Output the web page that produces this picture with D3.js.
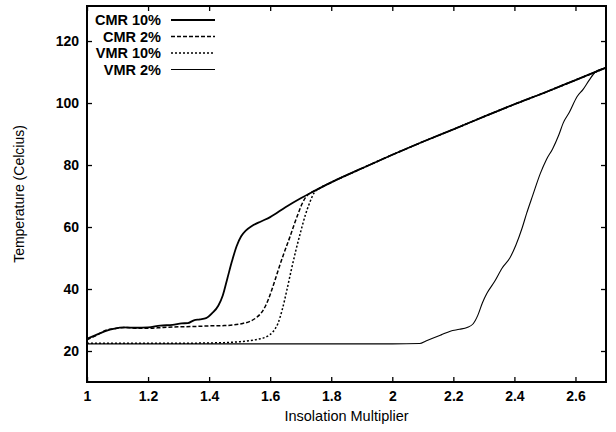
<!DOCTYPE html>
<html>
<head>
<meta charset="utf-8">
<script src="https://cdn.jsdelivr.net/npm/d3@7"></script>
<style>
  html, body { margin: 0; padding: 0; background: #fff; }
  svg { display: block; }
  text { font-family: "Liberation Sans", Arial, Helvetica, sans-serif; fill: #000; }
</style>
</head>
<body>
<svg id="chart" width="616" height="432"></svg>
<script>
// ---- data ----
const xTicks = [1, 1.2, 1.4, 1.6, 1.8, 2, 2.2, 2.4, 2.6];
const yTicks = [20, 40, 60, 80, 100, 120];
const seriesNames = ["CMR 10%", "CMR 2%", "VMR 10%", "VMR 2%"];

const cmr10 = [[1.00,24.0],[1.03,25.2],[1.06,26.4],[1.09,27.2],[1.12,27.6],[1.16,27.5],[1.20,27.6],[1.24,28.2],[1.28,28.4],[1.31,28.9],[1.33,29.0],[1.35,29.9],[1.37,30.2],[1.39,30.6],[1.41,32.2],[1.43,34.6],[1.445,38.0],[1.46,43.5],[1.475,49.0],[1.49,53.8],[1.505,57.0],[1.52,58.8],[1.54,60.3],[1.57,61.8],[1.60,63.2],[1.65,66.4],[1.70,69.3],[1.75,71.9],[1.80,74.4],[1.90,78.9],[2.00,83.3],[2.10,87.5],[2.20,91.5],[2.30,95.6],[2.40,99.6],[2.50,103.4],[2.60,107.4],[2.70,111.4]];

const cmr2 = [[1.00,23.6],[1.03,25.0],[1.06,26.6],[1.09,27.2],[1.13,27.6],[1.17,27.3],[1.20,27.3],[1.25,27.6],[1.30,27.8],[1.35,27.9],[1.40,28.1],[1.45,28.2],[1.48,28.4],[1.51,28.9],[1.535,29.6],[1.555,30.8],[1.57,32.2],[1.585,34.6],[1.60,38.2],[1.615,42.6],[1.63,47.2],[1.645,51.5],[1.665,56.9],[1.68,61.2],[1.692,64.4],[1.705,67.6],[1.715,69.4],[1.73,70.9],[1.75,71.9],[1.80,74.4],[1.90,78.9],[2.00,83.3],[2.10,87.5],[2.20,91.5],[2.30,95.6],[2.40,99.6],[2.50,103.4],[2.60,107.4],[2.70,111.4]];

const vmr10 = [[1.00,22.5],[1.10,22.5],[1.20,22.5],[1.30,22.5],[1.40,22.6],[1.45,22.7],[1.50,23.0],[1.53,23.3],[1.56,23.8],[1.59,24.7],[1.61,26.3],[1.625,28.8],[1.64,33.5],[1.655,39.8],[1.67,46.5],[1.685,52.8],[1.70,58.5],[1.715,63.8],[1.73,68.0],[1.745,71.2],[1.76,72.4],[1.80,74.4],[1.90,78.9],[2.00,83.3],[2.10,87.5],[2.20,91.5],[2.30,95.6],[2.40,99.6],[2.50,103.4],[2.60,107.4],[2.70,111.4]];

const vmr2 = [[1.00,22.3],[1.20,22.3],[1.40,22.3],[1.60,22.3],[1.80,22.3],[2.00,22.3],[2.09,22.4],[2.11,23.2],[2.13,24.0],[2.16,25.2],[2.19,26.4],[2.22,27.0],[2.245,27.6],[2.265,28.8],[2.28,31.5],[2.295,35.5],[2.31,38.6],[2.335,42.4],[2.36,46.8],[2.385,50.0],[2.405,54.2],[2.425,59.6],[2.44,64.4],[2.46,70.2],[2.485,77.3],[2.505,81.8],[2.525,85.2],[2.545,89.6],[2.56,93.6],[2.58,97.0],[2.605,102.0],[2.625,104.4],[2.645,107.4],[2.665,110.0],[2.685,111.0],[2.70,111.4]];

const seriesData = [cmr10, cmr2, vmr10, vmr2];

// ---- styles ----
const styles = [
  { width: 1.8, dash: null },
  { width: 1.5, dash: "4,2" },
  { width: 1.5, dash: "2,2" },
  { width: 1.1, dash: null }
];

// ---- layout ----
const svg = d3.select("#chart");
const L = 87, R = 606, T = 6, B = 382;

const x = d3.scaleLinear().domain([1, 2.7]).range([L, R]);
const y = d3.scaleLinear().domain([10, 131.3]).range([B, T]);

svg.append("rect").attr("width", 616).attr("height", 432).attr("fill", "#fff");

const plot = svg.append("g");
plot.append("clipPath").attr("id", "clip")
  .append("rect").attr("x", L).attr("y", T).attr("width", R - L).attr("height", B - T);

// inward ticks on all sides via d3 axes
const tickLen = 5;
const axB = svg.append("g").attr("transform", `translate(0,${B})`)
  .call(d3.axisTop(x).tickValues(xTicks).tickSize(tickLen).tickFormat(""));
const axT = svg.append("g").attr("transform", `translate(0,${T})`)
  .call(d3.axisBottom(x).tickValues(xTicks).tickSize(tickLen).tickFormat(""));
const axL = svg.append("g").attr("transform", `translate(${L},0)`)
  .call(d3.axisRight(y).tickValues(yTicks).tickSize(tickLen).tickFormat(""));
const axR = svg.append("g").attr("transform", `translate(${R},0)`)
  .call(d3.axisLeft(y).tickValues(yTicks).tickSize(tickLen).tickFormat(""));
[axB, axT, axL, axR].forEach(a => {
  a.select(".domain").remove();
  a.selectAll("line").attr("stroke", "#000").attr("stroke-width", 1.3);
});

// tick labels
const xLab = svg.append("g").attr("transform", `translate(0,${B})`)
  .call(d3.axisBottom(x).tickValues(xTicks).tickSize(0).tickPadding(9).tickFormat(d3.format("~g")));
xLab.select(".domain").remove();
xLab.selectAll("text").attr("font-size", 14).attr("font-weight", "bold")
  .attr("font-family", "Liberation Sans, Arial, sans-serif").attr("fill", "#000");

const yLab = svg.append("g").attr("transform", `translate(${L},0)`)
  .call(d3.axisLeft(y).tickValues(yTicks).tickSize(0).tickPadding(8).tickFormat(d3.format("~g")));
yLab.select(".domain").remove();
yLab.selectAll("text").attr("font-size", 14).attr("font-weight", "bold")
  .attr("font-family", "Liberation Sans, Arial, sans-serif").attr("fill", "#000");

// curves
const line = d3.line().x(d => x(d[0])).y(d => y(d[1])).curve(d3.curveMonotoneX);
const curves = plot.append("g").attr("clip-path", "url(#clip)");
seriesData.forEach((s, i) => {
  curves.append("path").datum(s)
    .attr("d", line)
    .attr("fill", "none")
    .attr("stroke", "#000")
    .attr("stroke-width", styles[i].width)
    .attr("stroke-dasharray", styles[i].dash)
    .attr("stroke-linejoin", "round");
});

// border
svg.append("rect").attr("x", L).attr("y", T).attr("width", R - L).attr("height", B - T)
  .attr("fill", "none").attr("stroke", "#000").attr("stroke-width", 2);

// legend
const legY = [20, 36.5, 53, 69.5];
const leg = svg.append("g");
seriesNames.forEach((n, i) => {
  leg.append("text").attr("x", 161).attr("y", legY[i]).attr("dy", "0.35em")
    .attr("text-anchor", "end").attr("font-size", 14.5).attr("font-weight", "bold").text(n);
  leg.append("line").attr("x1", 171).attr("x2", 215).attr("y1", legY[i]).attr("y2", legY[i])
    .attr("stroke", "#000").attr("stroke-width", styles[i].width)
    .attr("stroke-dasharray", styles[i].dash);
});

// axis titles
svg.append("text").attr("x", (L + R) / 2).attr("y", 421).attr("text-anchor", "middle")
  .attr("font-size", 14.5).text("Insolation Multiplier");
svg.append("text").attr("transform", `translate(24,${(T + B) / 2}) rotate(-90)`)
  .attr("text-anchor", "middle").attr("font-size", 14).text("Temperature (Celcius)");
</script>
</body>
</html>
